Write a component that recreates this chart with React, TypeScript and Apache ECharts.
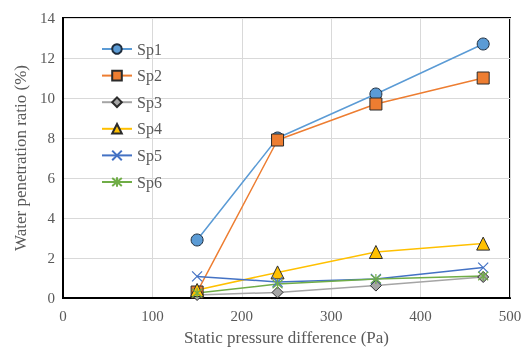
import React, { useEffect, useRef } from "react";
import * as echarts from "echarts";

const pressure = [150, 240, 350, 470];
const sp1 = [2.9, 8.0, 10.2, 12.7];
const sp2 = [0.3, 7.9, 9.7, 11.0];
const sp3 = [0.15, 0.28, 0.62, 1.05];
const sp4 = [0.4, 1.28, 2.3, 2.72];
const sp5 = [1.08, 0.8, 0.95, 1.52];
const sp6 = [0.25, 0.7, 0.95, 1.1];
const seriesNames = ["Sp1", "Sp2", "Sp3", "Sp4", "Sp5", "Sp6"];

const CROSS = "path://M0,0L10,10M0,10L10,0";
const STAR = "path://M0,0L10,10M0,10L10,0M5,-1L5,11";

export default function App() {
  const ref = useRef<HTMLDivElement>(null);
  useEffect(() => {
    if (!ref.current) return;
    const chart = echarts.init(ref.current, null, { renderer: "svg" });
    const mk = (vals: number[]) => vals.map((v, i) => [pressure[i], v]);
    const font = "Liberation Serif";
    const specs = [
      { name: seriesNames[0], data: sp1, color: "#5B9BD5", symbol: "circle", size: 12, fill: "#5B9BD5", border: "#1f2d3d", bw: 1 },
      { name: seriesNames[1], data: sp2, color: "#ED7D31", symbol: "rect", size: 12, fill: "#ED7D31", border: "#2b2b2b", bw: 1 },
      { name: seriesNames[2], data: sp3, color: "#A5A5A5", symbol: "diamond", size: 11, fill: "#A5A5A5", border: "#2b2b2b", bw: 1 },
      { name: seriesNames[3], data: sp4, color: "#FFC000", symbol: "triangle", size: 13, fill: "#FFC000", border: "#2b2b2b", bw: 1 },
      { name: seriesNames[4], data: sp5, color: "#4472C4", symbol: CROSS, size: 10, fill: "none", border: "#4472C4", bw: 1.2 },
      { name: seriesNames[5], data: sp6, color: "#70AD47", symbol: STAR, size: 10, fill: "none", border: "#70AD47", bw: 1.2 },
    ];
    chart.setOption({
      animation: false,
      grid: {
        left: 63, right: 18, top: 18, bottom: 52,
        outerBoundsMode: "none",
        containLabel: false,
        show: true, borderColor: "#000", borderWidth: 2, backgroundColor: "transparent",
      },
      legend: {
        orient: "vertical",
        left: 96,
        top: 36,
        itemWidth: 30,
        itemHeight: 12,
        itemGap: 10.6,
        textStyle: { fontFamily: font, fontSize: 16, color: "#595959" },
        data: seriesNames,
      },
      xAxis: {
        type: "value",
        min: 0,
        max: 500,
        interval: 100,
        name: "Static pressure difference (Pa)",
        nameLocation: "middle",
        nameGap: 31,
        nameTextStyle: { fontFamily: font, fontSize: 17, color: "#595959" },
        axisLine: { show: true, lineStyle: { color: "#000", width: 2 } },
        axisTick: { show: false },
        axisLabel: { fontFamily: font, fontSize: 15, color: "#595959", margin: 10 },
        splitLine: { show: true, lineStyle: { color: "#d9d9d9", width: 1 } },
      },
      yAxis: {
        type: "value",
        min: 0,
        max: 14,
        interval: 2,
        name: "Water penetration ratio (%)",
        nameLocation: "middle",
        nameGap: 34,
        nameTextStyle: { fontFamily: font, fontSize: 17, color: "#595959" },
        axisLine: { show: true, lineStyle: { color: "#000", width: 2 } },
        axisTick: { show: false },
        axisLabel: { fontFamily: font, fontSize: 15, color: "#595959", margin: 8 },
        splitLine: { show: true, lineStyle: { color: "#d9d9d9", width: 1 } },
      },
      series: specs.map((s) => ({
        name: s.name,
        type: "line",
        data: mk(s.data),
        symbol: s.symbol,
        symbolSize: s.size,
        lineStyle: { color: s.color, width: 1.5 },
        itemStyle: { color: s.fill, borderColor: s.border, borderWidth: s.bw },
        emphasis: { disabled: true },
      })),
    });
    return () => chart.dispose();
  }, []);
  return <div ref={ref} style={{ position: "fixed", left: 0, top: 0, width: 528, height: 350 }} />;
}
